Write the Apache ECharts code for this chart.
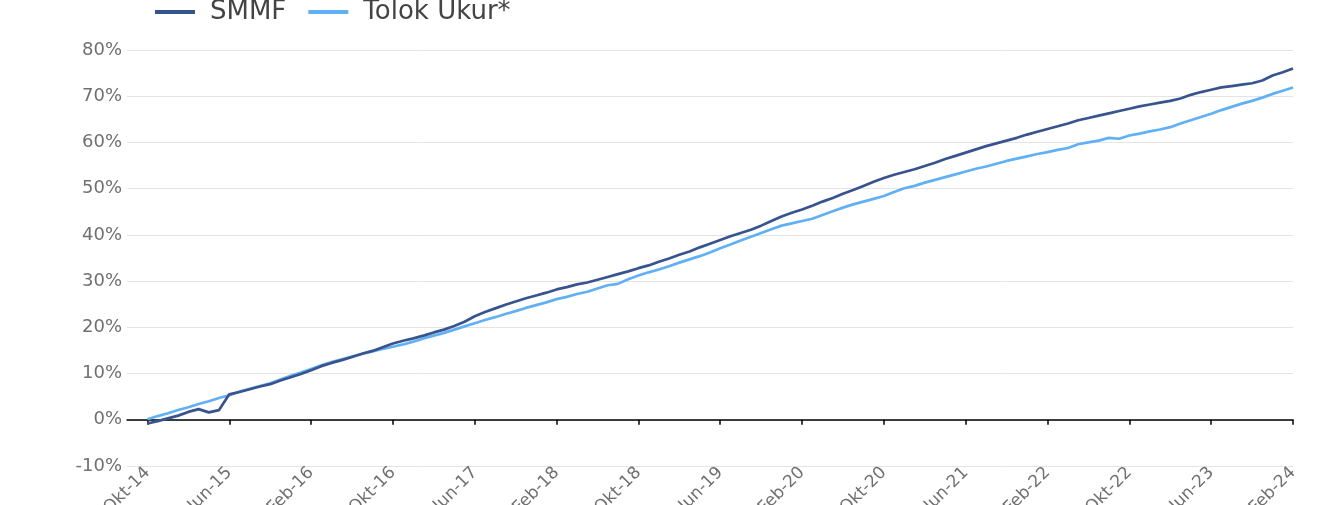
<!DOCTYPE html>
<html>
<head>
<meta charset="utf-8">
<script src="https://cdn.jsdelivr.net/npm/echarts@6/dist/echarts.min.js"></script>
<style>
  html, body { margin: 0; padding: 0; background: #fff; }
  #chart { width: 1322px; height: 505px; }
</style>
</head>
<body>
<div id="chart"></div>
<script>
// month names (Indonesian), first two categories are padding before Okt-14
const monthNames = ['Jan', 'Feb', 'Mar', 'Apr', 'Mei', 'Jun', 'Jul', 'Agu', 'Sep', 'Okt', 'Nov', 'Des'];
const startYear = 2014;
const startMonth = 7; // Agu-14
const leadPad = 2;

// cumulative return in %, monthly from Okt-14 to Feb-24
const smmf = [
  -0.8, -0.3, 0.3, 0.9, 1.7, 2.3, 1.6, 2.1, 5.5, 6.0,
  6.6, 7.2, 7.7, 8.5, 9.2, 9.9, 10.7, 11.6, 12.3, 12.9,
  13.6, 14.3, 14.9, 15.7, 16.5, 17.1, 17.6, 18.2, 18.9, 19.5,
  20.3, 21.2, 22.4, 23.3, 24.1, 24.9, 25.6, 26.3, 26.9, 27.5,
  28.2, 28.7, 29.3, 29.7, 30.3, 30.9, 31.5, 32.1, 32.8, 33.4,
  34.2, 34.9, 35.7, 36.4, 37.3, 38.1, 38.9, 39.7, 40.4, 41.1,
  42.0, 43.0, 44.0, 44.8, 45.5, 46.3, 47.2, 48.0, 48.9, 49.7,
  50.6, 51.5, 52.3, 53.0, 53.6, 54.2, 54.9, 55.6, 56.4, 57.1,
  57.8, 58.5, 59.2, 59.8, 60.4, 61.0, 61.7, 62.3, 62.9, 63.5,
  64.1, 64.8, 65.3, 65.8, 66.3, 66.8, 67.3, 67.8, 68.2, 68.6,
  69.0, 69.5, 70.3, 70.9, 71.4, 71.9, 72.2, 72.5, 72.8, 73.4,
  74.5, 75.2, 76.0
];
const tolokUkur = [
  0.1, 0.8, 1.4, 2.1, 2.7, 3.4, 4.0, 4.7, 5.3, 6.1,
  6.7, 7.3, 7.9, 8.7, 9.5, 10.2, 11.0, 11.8, 12.5, 13.1,
  13.7, 14.3, 14.8, 15.3, 15.8, 16.3, 16.9, 17.6, 18.2, 18.8,
  19.5, 20.2, 20.9, 21.6, 22.2, 22.9, 23.5, 24.2, 24.8, 25.4,
  26.1, 26.6, 27.2, 27.7, 28.4, 29.1, 29.4, 30.4, 31.2, 31.9,
  32.5, 33.2, 34.0, 34.7, 35.4, 36.2, 37.1, 37.9, 38.8, 39.6,
  40.4, 41.2, 42.0, 42.5, 43.0, 43.5, 44.3, 45.1, 45.9, 46.6,
  47.2, 47.8, 48.4, 49.3, 50.1, 50.6, 51.3, 51.9, 52.5, 53.1,
  53.7, 54.3, 54.8, 55.4, 56.0, 56.5, 57.0, 57.5, 57.9, 58.4,
  58.8, 59.6, 60.0, 60.4, 61.0, 60.8, 61.5, 61.9, 62.4, 62.8,
  63.3, 64.1, 64.8, 65.5, 66.2, 67.0, 67.7, 68.4, 69.0, 69.7,
  70.5, 71.2, 71.9
];

const categories = [];
for (let i = 0; i < smmf.length + leadPad; i++) {
  const m = startMonth + i;
  const yy = String((startYear + Math.floor(m / 12)) % 100).padStart(2, '0');
  categories.push(monthNames[m % 12] + '-' + yy);
}
const pad = new Array(leadPad).fill('-');
const showTick = (idx) => idx >= leadPad && (idx - leadPad) % 8 === 0;

const chart = echarts.init(document.getElementById('chart'));
const option = {
  animation: false,
  color: ['#38548f', '#62b0f4'],
  legend: {
    left: 150,
    top: -6,
    icon: 'rect',
    itemWidth: 40,
    itemHeight: 4,
    itemGap: 22,
    textStyle: {
      fontFamily: 'DejaVu Sans',
      fontSize: 26,
      color: '#444',
      padding: [0, 0, 0, 10]
    },
    data: ['SMMF', 'Tolok Ukur*']
  },
  grid: {
    left: 127,
    right: 29,
    top: 50,
    bottom: 39,
    outerBoundsMode: 'none'
  },
  xAxis: [
    {
      // axis line and ticks sitting on 0%
      type: 'category',
      data: categories,
      boundaryGap: false,
      axisLine: { onZero: true, lineStyle: { color: '#000', width: 1.5 } },
      axisTick: { show: true, interval: showTick, length: 5, lineStyle: { color: '#000', width: 1.5 } },
      axisLabel: { show: false },
      splitLine: { show: false }
    },
    {
      // labels under the plot
      type: 'category',
      data: categories,
      position: 'bottom',
      boundaryGap: false,
      axisLine: { show: false, onZero: false },
      axisTick: { show: false },
      axisLabel: {
        interval: showTick,
        rotate: 45,
        margin: 4,
        fontFamily: 'DejaVu Sans',
        fontSize: 17,
        color: '#707070'
      },
      splitLine: { show: false }
    }
  ],
  yAxis: {
    type: 'value',
    min: -10,
    max: 80,
    interval: 10,
    axisLine: { show: false },
    axisTick: { show: false },
    axisLabel: {
      formatter: '{value}%',
      margin: 5,
      fontFamily: 'DejaVu Sans',
      fontSize: 18,
      color: '#707070'
    },
    splitLine: { lineStyle: { color: '#e4e4e4', width: 1 } }
  },
  series: [
    {
      name: 'SMMF',
      type: 'line',
      data: pad.concat(smmf),
      showSymbol: false,
      lineStyle: { width: 2.7 },
      z: 3
    },
    {
      name: 'Tolok Ukur*',
      type: 'line',
      data: pad.concat(tolokUkur),
      showSymbol: false,
      lineStyle: { width: 2.7 },
      z: 2
    }
  ]
};
chart.setOption(option);
</script>
</body>
</html>
